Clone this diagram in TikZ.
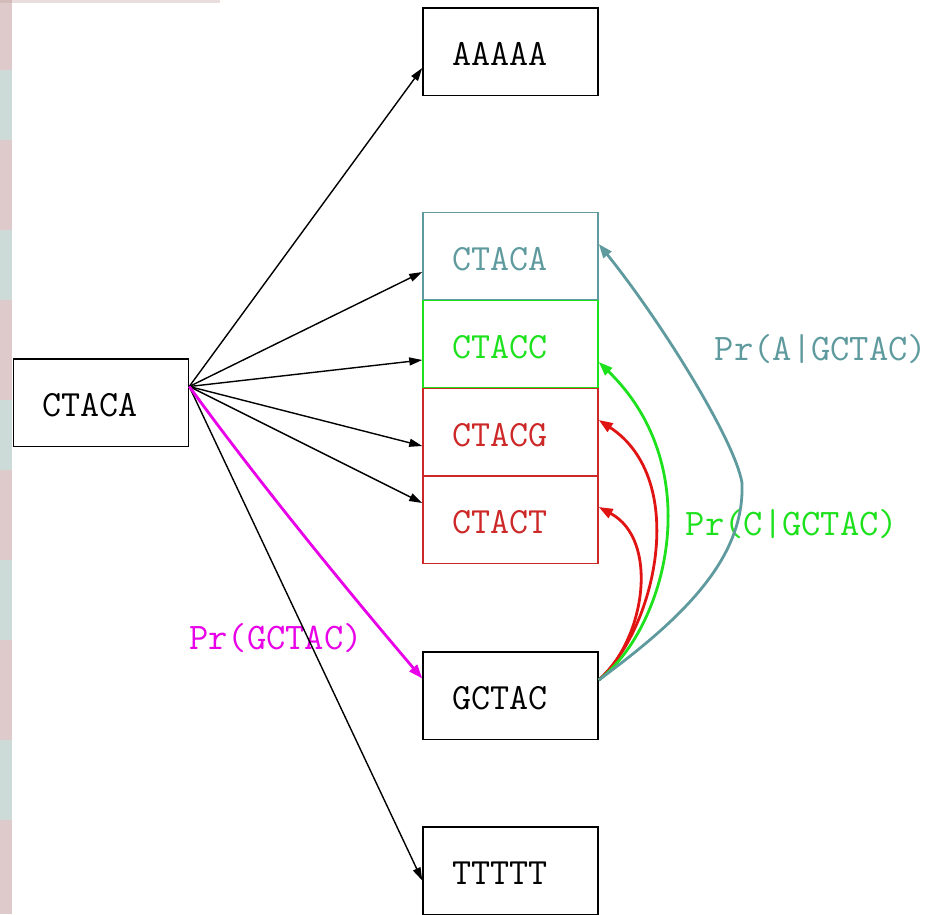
\documentclass[tikz,border=0pt]{standalone}
\usetikzlibrary{arrows.meta}

\definecolor{tealc}{RGB}{95,155,158}
\definecolor{greenc}{RGB}{30,225,30}
\definecolor{redc}{RGB}{225,20,20}
\definecolor{redt}{RGB}{205,40,40}
\definecolor{magc}{RGB}{232,0,232}
\definecolor{stripA}{RGB}{196,160,160}
\definecolor{stripB}{RGB}{165,190,185}

\tikzset{
  seqbox/.style={draw, line width=1.5pt, rectangle, minimum width=175pt,
    minimum height=87.5pt, inner xsep=29pt, text width=117pt, align=left,
    text height=28pt, text depth=0pt,
    font=\ttfamily\fontsize{37}{40}\selectfont},
  lbl/.style={font=\ttfamily\fontsize{37.5}{40}\selectfont},
  blk/.style={draw=black, line width=1.4pt, -{Triangle[length=13pt,width=8pt]}},
  fat/.style={line width=2.8pt, -{Triangle[length=14pt,width=10pt]}},
}

\begin{document}
\begin{tikzpicture}[x=1pt, y=-1pt]
\useasboundingbox (0,0) rectangle (930,914);
\fill[white] (0,0) rectangle (930,914);

% faded strip along the left edge
\foreach \ya/\yb/\c in {0/70/stripA, 70/140/stripB, 140/230/stripA, 230/300/stripB,
    300/400/stripA, 400/470/stripB, 470/560/stripA, 560/640/stripB,
    640/740/stripA, 740/820/stripB, 820/914/stripA}
  \fill[\c, opacity=0.55] (0,\ya) rectangle (12,\yb);
\fill[stripA, opacity=0.35] (0,0) rectangle (220,3);

% sequence boxes
\node[seqbox] (src) at (101,402.5) {CTACA};
\node[seqbox] (a) at (510.5,51.5) {AAAAA};
\node[seqbox, draw=tealc, text=tealc] (xa) at (510.5,256) {CTACA};
\node[seqbox, draw=greenc, text=greenc] (xc) at (510.5,344) {CTACC};
\node[seqbox, draw=redt, text=redt] (xg) at (510.5,432) {CTACG};
\node[seqbox, draw=redt, text=redt] (xt) at (510.5,519.5) {CTACT};
\node[seqbox] (g) at (510.5,695.5) {GCTAC};
\node[seqbox] (t) at (510.5,870.5) {TTTTT};

% probability labels
\node[lbl, text=magc] (pg) at (276,638) {Pr(GCTAC)};
\node[lbl, text=tealc] (pa) at (821,349) {Pr(A|GCTAC)};
\node[lbl, text=greenc] (pc) at (792,524) {Pr(C|GCTAC)};

% fan-out from the source
\coordinate (s) at ([yshift=16pt]src.east);
\draw[blk] (s) -- ([yshift=-16.5pt]a.west);
\draw[blk] (s) -- ([yshift=-16pt]xa.west);
\draw[blk] (s) -- ([yshift=-16pt]xc.west);
\draw[blk] (s) -- ([yshift=-14pt]xg.west);
\draw[blk] (s) -- ([yshift=16.5pt]xt.west);
\draw[blk] (s) -- ([yshift=-10pt]t.west);
\draw[fat, magc] (s) .. controls (250,470) and (330,570) .. ([yshift=17pt]g.west);

% conditional transitions out of GCTAC
\coordinate (ge) at ([yshift=15.5pt]g.east);
\draw[fat, redc] (ge) .. controls (645,640) and (660,540) .. ([yshift=12.5pt]xt.east);
\draw[fat, redc] (ge) .. controls (655,630) and (690,480) .. ([yshift=12pt]xg.east);
\draw[fat, greenc] (ge) .. controls (665,630) and (710,470) .. ([yshift=-18pt]xc.east);
\draw[fat, tealc] (ge) .. controls (680,620) and (745,560) .. (742,483)
  .. controls (735,440) and (660,320) .. ([yshift=12pt]xa.east);
\end{tikzpicture}
\end{document}
